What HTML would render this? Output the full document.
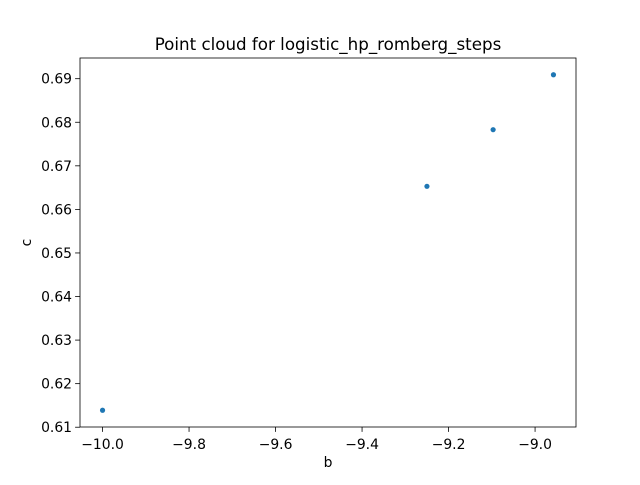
<!DOCTYPE html>
<html><head><meta charset="utf-8"><style>
body{margin:0;background:#fff}
svg text{font-family:"DejaVu Sans","Liberation Sans",sans-serif;fill:#000}
</style></head><body>
<svg id="chart" width="640" height="480" xmlns="http://www.w3.org/2000/svg"></svg>
<script>
const bValues=[-10.0,-9.25,-9.097,-8.9575];
const cValues=[0.6139,0.6653,0.6783,0.6909];
const xTicks=[-10.0,-9.8,-9.6,-9.4,-9.2,-9.0];
const yTicks=[0.61,0.62,0.63,0.64,0.65,0.66,0.67,0.68,0.69];
const svg=document.getElementById('chart');
const NS='http://www.w3.org/2000/svg';
const L=80,R=576,T=58,B=427;
const xmin=Math.min(...bValues),xmax=Math.max(...bValues),xr=xmax-xmin;
const ymin=Math.min(...cValues),ymax=Math.max(...cValues),yr=ymax-ymin;
const x0=xmin-0.05*xr,x1=xmax+0.05*xr,y0=ymin-0.05*yr,y1=ymax+0.05*yr;
const sx=v=>L+(v-x0)/(x1-x0)*(R-L);
const sy=v=>B-(v-y0)/(y1-y0)*(B-T);
function mk(t,a,txt){const e=document.createElementNS(NS,t);for(const k in a)e.setAttribute(k,a[k]);if(txt!==undefined)e.textContent=txt;svg.appendChild(e);return e;}
const fmt=v=>(v<0?'\u2212':'')+Math.abs(v).toFixed(1);
xTicks.forEach(v=>{const x=sx(v);
 const t=mk('line',{x1:x,x2:x,y1:B,y2:B+4.9,stroke:'#000','stroke-width':0.8});
 
 
 const l=mk('text',{x:x,y:B+22,'font-size':13.9,'text-anchor':'middle'},fmt(v));
 
 });
yTicks.forEach(v=>{const y=sy(v);
 const t=mk('line',{x1:L-4.9,x2:L,y1:y,y2:y,stroke:'#000','stroke-width':0.8});
 
 
 const l=mk('text',{x:L-8,y:y+5,'font-size':13.9,'text-anchor':'end'},v.toFixed(2));
 
 });
bValues.forEach((b,i)=>{const p=mk('circle',{cx:sx(b),cy:sy(cValues[i]),r:2.6,fill:'#1f77b4'});
 
 });
const f=mk('rect',{x:L,y:T,width:R-L,height:B-T,fill:'none',stroke:'#000','stroke-width':0.8});


const tt=mk('text',{x:(L+R)/2,y:50,'font-size':16.7,'text-anchor':'middle'},'Point cloud for logistic_hp_romberg_steps');


const xl=mk('text',{x:(L+R)/2,y:467,'font-size':13.9,'text-anchor':'middle'},'b');


const yl=mk('text',{x:31,y:(T+B)/2,'font-size':13.9,'text-anchor':'middle',transform:'rotate(-90 31 '+(T+B)/2+')'},'c');


</script>
</body></html>
